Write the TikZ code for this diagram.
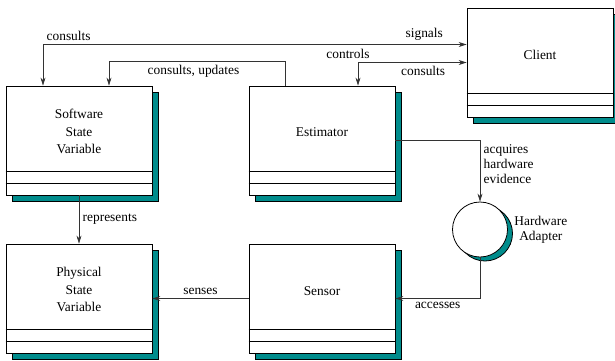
\documentclass[tikz,border=0pt]{standalone}
\usepackage{fontspec}
\setmainfont{Liberation Serif}
\usetikzlibrary{shapes,arrows.meta,positioning,calc,shadows}
\definecolor{shadowteal}{RGB}{0,140,140}

\begin{document}
\begin{tikzpicture}[x=1pt, y=-1pt,
    every node/.style={font=\fontsize{13.4}{15}\selectfont},
    classbox/.style={draw, line width=0.8pt, fill=white, minimum width=146pt, minimum height=109pt,
        drop shadow={shadow xshift=6pt, shadow yshift=-6pt, fill=shadowteal, draw=black, line width=0.8pt, opacity=1}},
    classname/.style={align=center, font=\fontsize{13.4}{17.5}\selectfont},
    adapter/.style={draw, circle, line width=0.8pt, fill=white, minimum size=55pt,
        drop shadow={shadow xshift=5pt, shadow yshift=-4pt, fill=shadowteal, draw=black, line width=0.8pt, opacity=1}},
    link/.style={draw=black!80, line width=0.7pt},
    >={Stealth[length=8pt, width=5pt, inset=2.5pt]}]
    \useasboundingbox (0,0) rectangle (615,360);

    % classes
    \node[classbox] (sw) at (79,140.5) {};
    \node[classbox] (ps) at (79,298.5) {};
    \node[classbox] (est) at (322,140.5) {};
    \node[classbox] (sen) at (322,298.5) {};
    \node[classbox] (cl) at (540,62.5) {};
    \foreach \c in {sw,ps,est,sen,cl} {
        \draw[line width=0.8pt] ([yshift=24pt]\c.south west) -- ([yshift=24pt]\c.south east);
        \draw[line width=0.8pt] ([yshift=12pt]\c.south west) -- ([yshift=12pt]\c.south east);
    }
    \node[classname] (swname) at ([yshift=9pt]sw.center) {Software\\State\\Variable};
    \node[classname] (psname) at ([yshift=9pt]ps.center) {Physical\\State\\Variable};
    \node[classname] (estname) at ([yshift=8pt]est.center) {Estimator};
    \node[classname] (senname) at ([yshift=7pt]sen.center) {Sensor};
    \node[classname] (clname) at ([yshift=8pt]cl.center) {Client};

    % hardware adapter
    \node[adapter] (hw) at (480,229.5) {};
    \node[align=center, right=3pt of hw] (hwname) {Hardware\\Adapter};

    % links
    \draw[link,<->] ([xshift=-36pt]sw.north) |- node[pos=0.5, above right] {consults}
        node[pos=0.95, above] {signals} ([yshift=18pt]cl.west);
    \draw[link,->] ([xshift=-37pt]est.north) -- ++(0pt,24pt) -| node[pos=0.26, below] {consults, updates} ([xshift=30pt]sw.north);
    \draw[link,<->] ([xshift=36pt]est.north) |- node[pos=0.5, above, xshift=-10pt] {controls}
        node[pos=0.8, below] {consults} (cl.west);
    \draw[link,->] (est.east) -| node[pos=0.5, below right, align=left] {acquires\\hardware\\evidence} (hw.north);
    \draw[link,->] (hw.south) |- node[pos=0.75, below] {accesses} (sen.east);
    \draw[link,->] (sen.west) -- node[above] {senses} (ps.east);
    \draw[link,->] (sw.south) -- node[right] {represents} (ps.north);
\end{tikzpicture}
\end{document}
